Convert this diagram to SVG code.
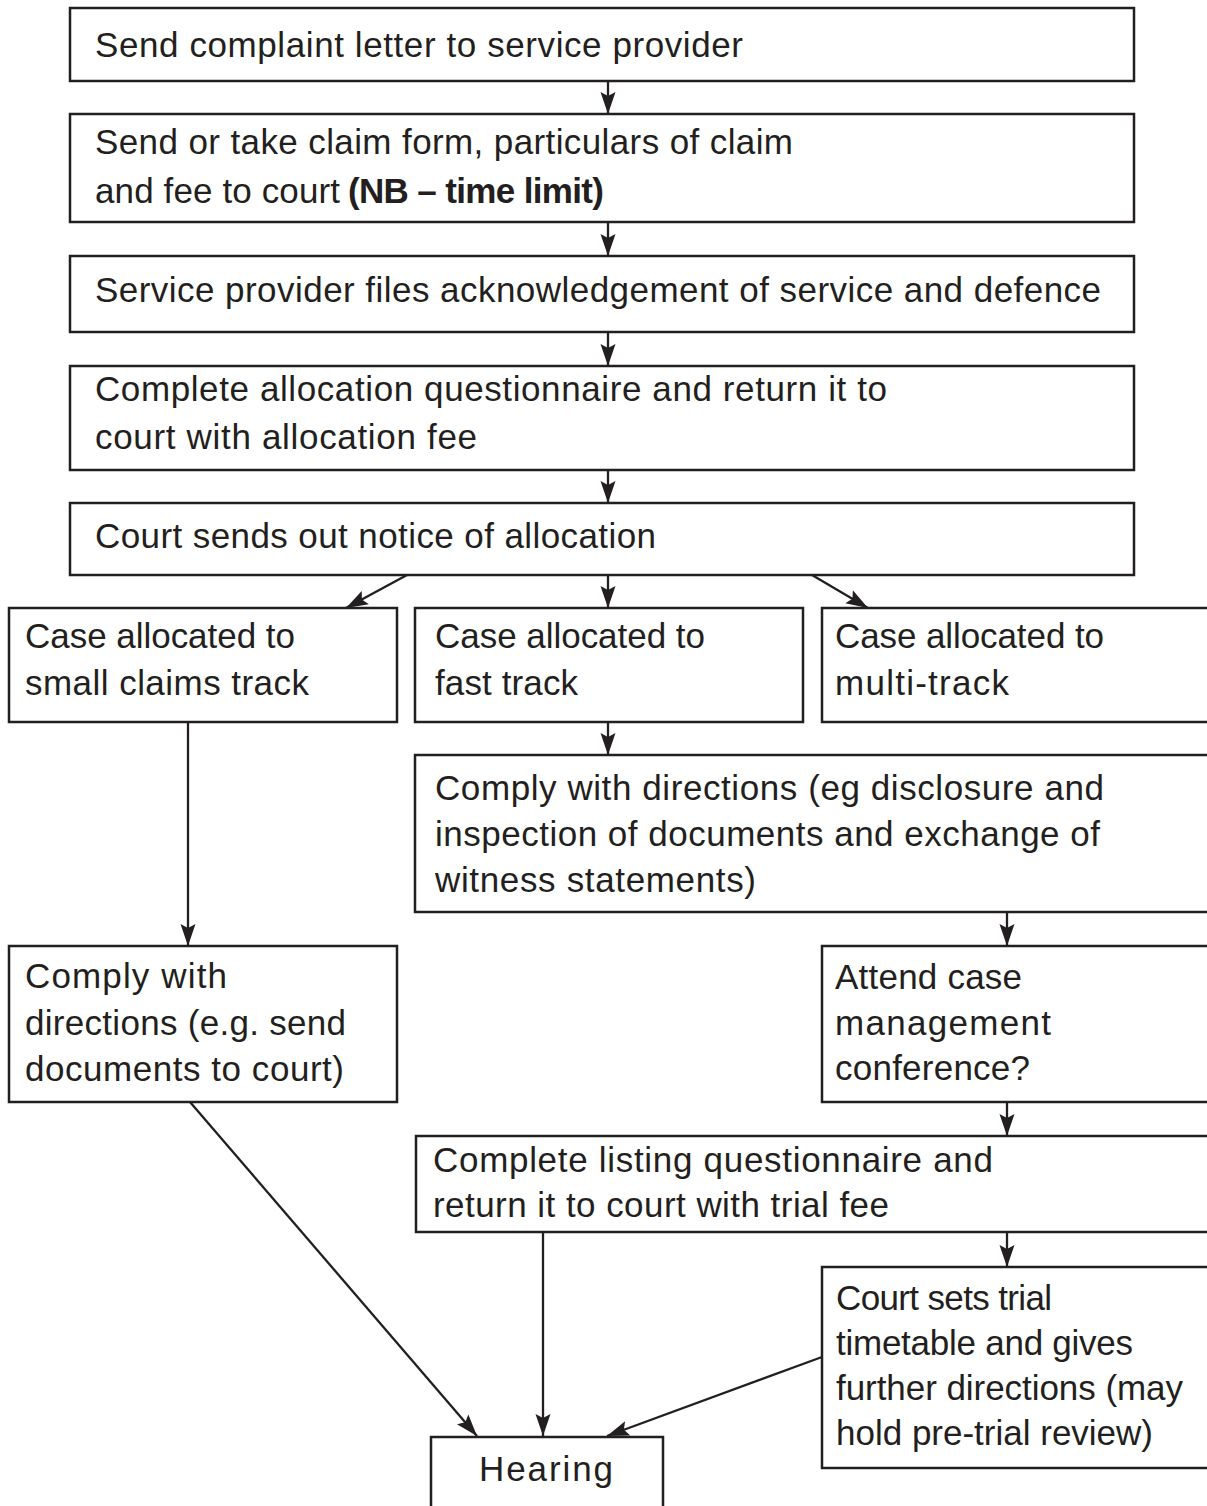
<svg xmlns="http://www.w3.org/2000/svg" width="1207" height="1506" viewBox="0 0 1207 1506">
<style>
.box{fill:#fff;stroke:#231f20;stroke-width:2.5}
.t{font-family:"Liberation Sans",Arial,sans-serif;font-size:35px;fill:#231f20}
.b{font-weight:bold}
.c{fill:none;stroke:#231f20;stroke-width:2.3}
</style>
<defs>
<marker id="arr" markerUnits="userSpaceOnUse" markerWidth="24" markerHeight="16" refX="22" refY="8" orient="auto">
<path d="M0,0.5 L22,8 L0,15.5 L4,8 z" fill="#231f20"/>
</marker>
</defs>
<rect width="1207" height="1506" fill="#fff"/>
<g id="connectors">
<line class="c" x1="608" y1="81" x2="608" y2="114" marker-end="url(#arr)"/>
<line class="c" x1="608" y1="222" x2="608" y2="256" marker-end="url(#arr)"/>
<line class="c" x1="608" y1="332" x2="608" y2="366" marker-end="url(#arr)"/>
<line class="c" x1="608" y1="470" x2="608" y2="503" marker-end="url(#arr)"/>
<line class="c" x1="407" y1="575" x2="346" y2="608" marker-end="url(#arr)"/>
<line class="c" x1="608" y1="575" x2="608" y2="608" marker-end="url(#arr)"/>
<line class="c" x1="812" y1="575" x2="868" y2="608" marker-end="url(#arr)"/>
<line class="c" x1="608" y1="722" x2="608" y2="755" marker-end="url(#arr)"/>
<line class="c" x1="188" y1="722" x2="188" y2="946" marker-end="url(#arr)"/>
<line class="c" x1="1007" y1="912" x2="1007" y2="946" marker-end="url(#arr)"/>
<line class="c" x1="1007" y1="1102" x2="1007" y2="1136" marker-end="url(#arr)"/>
<line class="c" x1="1007" y1="1232" x2="1007" y2="1267" marker-end="url(#arr)"/>
<line class="c" x1="190" y1="1102" x2="477" y2="1436" marker-end="url(#arr)"/>
<line class="c" x1="543" y1="1232" x2="543" y2="1436" marker-end="url(#arr)"/>
<line class="c" x1="822" y1="1357" x2="607" y2="1436" marker-end="url(#arr)"/>
</g>
<g id="n1"><rect class="box" x="70" y="8" width="1064" height="73"/>
<text class="t" x="95" y="57" textLength="648" lengthAdjust="spacing">Send complaint letter to service provider</text></g>
<g id="n2"><rect class="box" x="70" y="114" width="1064" height="108"/>
<text class="t" x="95" y="154" textLength="698" lengthAdjust="spacing">Send or take claim form, particulars of claim</text>
<text class="t" x="95" y="203" textLength="245" lengthAdjust="spacing">and fee to court</text>
<text class="t b" x="348" y="203" textLength="256" lengthAdjust="spacing">(NB – time limit)</text></g>
<g id="n3"><rect class="box" x="70" y="256" width="1064" height="76"/>
<text class="t" x="95" y="302" textLength="1006" lengthAdjust="spacing">Service provider files acknowledgement of service and defence</text></g>
<g id="n4"><rect class="box" x="70" y="366" width="1064" height="104"/>
<text class="t" x="95" y="401" textLength="792" lengthAdjust="spacing">Complete allocation questionnaire and return it to</text>
<text class="t" x="95" y="449" textLength="382" lengthAdjust="spacing">court with allocation fee</text></g>
<g id="n5"><rect class="box" x="70" y="503" width="1064" height="72"/>
<text class="t" x="95" y="548" textLength="561" lengthAdjust="spacing">Court sends out notice of allocation</text></g>
<g id="n6"><rect class="box" x="9" y="608" width="388" height="114"/>
<text class="t" x="25" y="648" textLength="270" lengthAdjust="spacing">Case allocated to</text>
<text class="t" x="25" y="695" textLength="284" lengthAdjust="spacing">small claims track</text></g>
<g id="n7"><rect class="box" x="415" y="608" width="388" height="114"/>
<text class="t" x="435" y="648" textLength="270" lengthAdjust="spacing">Case allocated to</text>
<text class="t" x="435" y="695" textLength="143" lengthAdjust="spacing">fast track</text></g>
<g id="n8"><rect class="box" x="822" y="608" width="395" height="114"/>
<text class="t" x="835" y="648" textLength="269" lengthAdjust="spacing">Case allocated to</text>
<text class="t" x="835" y="695" textLength="174" lengthAdjust="spacing">multi-track</text></g>
<g id="n9"><rect class="box" x="415" y="755" width="802" height="157"/>
<text class="t" x="435" y="800" textLength="669" lengthAdjust="spacing">Comply with directions (eg disclosure and</text>
<text class="t" x="435" y="846" textLength="665" lengthAdjust="spacing">inspection of documents and exchange of</text>
<text class="t" x="435" y="892" textLength="321" lengthAdjust="spacing">witness statements)</text></g>
<g id="n10"><rect class="box" x="9" y="946" width="388" height="156"/>
<text class="t" x="25" y="988" textLength="202" lengthAdjust="spacing">Comply with</text>
<text class="t" x="25" y="1035" textLength="321" lengthAdjust="spacing">directions (e.g. send</text>
<text class="t" x="25" y="1081" textLength="319" lengthAdjust="spacing">documents to court)</text></g>
<g id="n11"><rect class="box" x="822" y="946" width="395" height="156"/>
<text class="t" x="835" y="989" textLength="187" lengthAdjust="spacing">Attend case</text>
<text class="t" x="835" y="1035" textLength="216" lengthAdjust="spacing">management</text>
<text class="t" x="835" y="1080" textLength="195" lengthAdjust="spacing">conference?</text></g>
<g id="n12"><rect class="box" x="416" y="1136" width="801" height="96"/>
<text class="t" x="433" y="1172" textLength="560" lengthAdjust="spacing">Complete listing questionnaire and</text>
<text class="t" x="433" y="1217" textLength="456" lengthAdjust="spacing">return it to court with trial fee</text></g>
<g id="n13"><rect class="box" x="822" y="1267" width="395" height="201"/>
<text class="t" x="836" y="1310" textLength="216" lengthAdjust="spacing">Court sets trial</text>
<text class="t" x="836" y="1355" textLength="297" lengthAdjust="spacing">timetable and gives</text>
<text class="t" x="836" y="1400" textLength="347" lengthAdjust="spacing">further directions (may</text>
<text class="t" x="836" y="1445" textLength="317" lengthAdjust="spacing">hold pre-trial review)</text></g>
<g id="n14"><rect class="box" x="431" y="1437" width="232" height="80"/>
<text class="t" x="479" y="1481" textLength="134" lengthAdjust="spacing">Hearing</text></g>
</svg>
